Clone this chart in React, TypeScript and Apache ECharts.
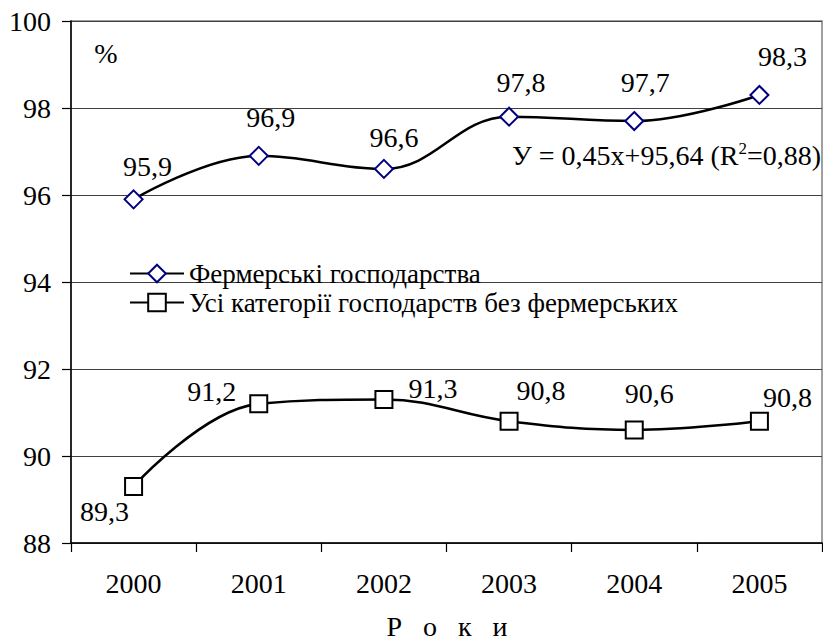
import React, { useEffect, useRef } from "react";
import * as echarts from "echarts";

const years = ["2000", "2001", "2002", "2003", "2004", "2005"];
const farmValues = [95.9, 96.9, 96.6, 97.8, 97.7, 98.3];
const otherValues = [89.3, 91.2, 91.3, 90.8, 90.6, 90.8];
const seriesNames = ["Фермерські господарства", "Усі категорії господарств без фермерських"];
const yMin = 88;
const yMax = 100;
const yStep = 2;
const trendText = "У = 0,45x+95,64 (R{sup|2}=0,88)";

// label placement (style only)
const farmLabelOffsets = [[14, -33], [12, -38], [10, -31], [12, -34], [11, -39], [23, -38]];
const otherLabelOffsets = [[-29, 25], [-47, -12], [49, -11], [32, -31], [15, -36], [28, -24]];

const FONT = "Liberation Serif, Times New Roman, serif";
const FS = 28;

const fmt = (v: number) => v.toFixed(1).replace(".", ",");

export default function App() {
  const ref = useRef<HTMLDivElement>(null);
  useEffect(() => {
    if (!ref.current) return;
    const chart = echarts.init(ref.current, null, { renderer: "svg" });
    const mk = (vals: number[], offs: number[][]) =>
      vals.map((v, i) => ({
        value: v,
        label: { offset: offs[i] },
      }));
    chart.setOption({
      animation: false,
      backgroundColor: "#ffffff",
      textStyle: { fontFamily: FONT, color: "#000" },
      grid: {
        left: 71,
        right: 1,
        top: 21,
        bottom: 100,
        show: true,
        borderColor: "#808080",
        borderWidth: 1.5,
        backgroundColor: "transparent",
      },
      legend: {
        orient: "vertical",
        left: 124,
        top: 255,
        itemWidth: 54,
        itemHeight: 22,
        itemGap: 2,
        textStyle: { fontFamily: FONT, fontSize: 27, color: "#000" },
        data: seriesNames,
      },
      xAxis: {
        type: "category",
        data: years,
        boundaryGap: true,
        axisLine: { lineStyle: { color: "#000", width: 1.5 } },
        axisTick: { show: true, length: 9, lineStyle: { color: "#000", width: 1.2 } },
        axisLabel: { fontFamily: FONT, fontSize: FS, color: "#000", margin: 26 },
        splitLine: { show: false },
      },
      yAxis: {
        type: "value",
        min: yMin,
        max: yMax,
        interval: yStep,
        axisLine: { show: true, lineStyle: { color: "#000", width: 1.5 } },
        axisTick: { show: true, length: 9, lineStyle: { color: "#000", width: 1.2 } },
        axisLabel: { fontFamily: FONT, fontSize: FS, color: "#000", margin: 20 },
        splitLine: { show: true, lineStyle: { color: "#404040", width: 1 } },
      },
      graphic: [
        {
          type: "text",
          style: {
            x: 106,
            y: 53,
            text: "%",
            fontFamily: FONT,
            fontSize: FS,
            fill: "#000",
            align: "center",
            verticalAlign: "middle",
          },
        },
        {
          type: "text",
          style: {
            x: 821,
            y: 155,
            text: trendText,
            fontFamily: FONT,
            fontSize: FS,
            fill: "#000",
            align: "right",
            verticalAlign: "middle",
            rich: {
              sup: { fontSize: 17, fontFamily: FONT, padding: [0, 0, 14, 0] },
            },
          },
        },
        {
          type: "text",
          style: {
            x: 447,
            y: 626,
            text: "Р   о   к   и",
            fontFamily: FONT,
            fontSize: FS,
            fill: "#000",
            align: "center",
            verticalAlign: "middle",
          },
        },
      ],
      series: [
        {
          name: seriesNames[0],
          type: "line",
          smooth: 0.4,
          data: mk(farmValues, farmLabelOffsets),
          symbol: "diamond",
          symbolSize: 18,
          lineStyle: { color: "#000", width: 2.5 },
          itemStyle: { color: "#fff", borderColor: "#000080", borderWidth: 2 },
          label: {
            show: true,
            position: "inside",
            fontFamily: FONT,
            fontSize: FS,
            color: "#000",
            formatter: (p: any) => fmt(p.value),
          },
          z: 3,
        },
        {
          name: seriesNames[1],
          type: "line",
          smooth: 0.4,
          data: mk(otherValues, otherLabelOffsets),
          symbol: "rect",
          symbolSize: 17,
          lineStyle: { color: "#000", width: 2.5 },
          itemStyle: { color: "#fff", borderColor: "#000", borderWidth: 2 },
          label: {
            show: true,
            position: "inside",
            fontFamily: FONT,
            fontSize: FS,
            color: "#000",
            formatter: (p: any) => fmt(p.value),
          },
          z: 3,
        },
      ],
    });
    return () => chart.dispose();
  }, []);
  return (
    <div
      ref={ref}
      style={{ position: "absolute", left: 0, top: 0, width: 823, height: 643 }}
    />
  );
}
